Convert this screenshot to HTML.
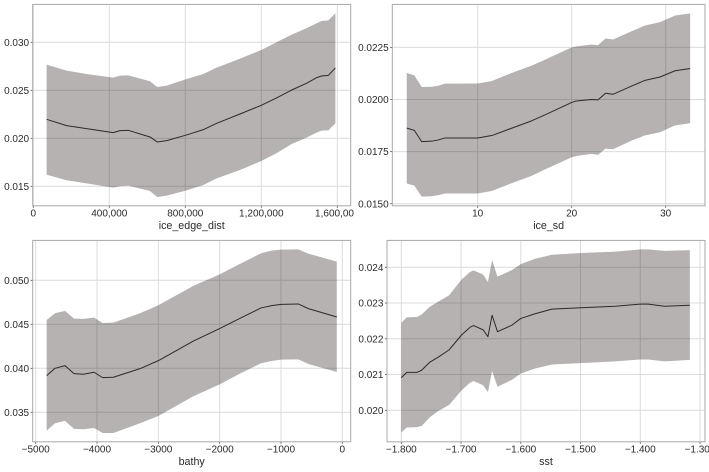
<!DOCTYPE html>
<html lang="en">
<head>
<meta charset="utf-8">
<title>Partial dependence panels</title>
<style>
html,body{margin:0;padding:0;background:#fff;width:709px;height:472px;overflow:hidden}
svg{display:block;filter:blur(.25px)}
text{font-family:"Liberation Sans",Arial,sans-serif;fill:#2b2b2b}
</style>
</head>
<body>
<svg id="chart" xmlns="http://www.w3.org/2000/svg" width="709" height="472" viewBox="0 0 709 472">
<defs><clipPath id="left-column-clip"><rect x="0" y="0" width="354" height="472"></rect></clipPath></defs>
</svg>
<script>
const iceEdgeX = [70000,175000,280000,420000,456000,500000,614000,652000,702000,807000,895000,965000,1088000,1200000,1280000,1360000,1438000,1491000,1517000,1553000,1590000];
const iceEdgeMean = [.02198,.02132,.02101,.02059,.0208,.02083,.02014,.01962,.01976,.02035,.0209,.02156,.02253,.02344,.0242,.02503,.02573,.02632,.02649,.02656,.02733];
const iceEdgeLow = [.01622,.01563,.01531,.01486,.0150,.01507,.01451,.01389,.01403,.01458,.01514,.01583,.0167,.01764,.01844,.01941,.02007,.02059,.0208,.02083,.02156];
const iceEdgeHigh = [.02767,.02705,.0267,.02632,.02653,.02656,.02594,.02535,.02549,.02618,.0267,.02736,.0283,.0292,.030,.0308,.03146,.03198,.03222,.03229,.03302];
const iceEdgeXTicks = [0,400000,800000,1200000,1600000];
const iceEdgeXLabels = ["0","400,000","800,000","1,200,000","1,600,000"];
const iceEdgeYTicks = [.015,.020,.025,.030];
const iceEdgeYLabels = ["0.015","0.020","0.025","0.030"];

const iceSdX = [2.45,3.26,4.04,5.1,5.8,6.5,10,11.5,13.6,15.7,17.2,20,20.5,22.1,22.8,23.6,24.4,26.4,27.8,29.4,31,32.6];
const iceSdMean = [.01863,.01852,.01798,.0180,.01806,.01815,.01815,.01827,.01862,.01897,.01927,.01986,.01993,.0200,.01998,.0203,.02025,.02065,.02092,.02108,.02138,.02149];
const iceSdLow = [.01597,.01587,.01534,.01536,.01541,.01549,.01549,.01561,.01598,.01633,.01665,.01723,.01729,.01739,.01734,.01764,.01761,.01803,.01828,.01843,.01876,.01886];
const iceSdHigh = [.02127,.02116,.0206,.02061,.02066,.02076,.02077,.02089,.02127,.02162,.02192,.0225,.02255,.02264,.02261,.02293,.02288,.02328,.02355,.02371,.02403,.02413];
const iceSdXTicks = [10,20,30];
const iceSdXLabels = ["10","20","30"];
const iceSdYTicks = [.015,.0175,.020,.0225];
const iceSdYLabels = ["0.0150","0.0175","0.0200","0.0225"];

const bathyX = [-4821,-4685,-4522,-4375,-4223,-4049,-3908,-3734,-3299,-3000,-2429,-2000,-1668,-1326,-1152,-1000,-717,-554,-90];
const bathyMean = [.03917,.0400,.0403,.03939,.03932,.03955,.03894,.03898,.03996,.04087,.0431,.04451,.04568,.04686,.04712,.04727,.04731,.04678,.04583];
const bathyLow = [.03292,.03375,.03402,.03311,.03307,.03322,.03265,.03265,.03375,.03458,.03682,.03818,.03939,.04057,.04083,.04098,.04102,.04049,.03958];
const bathyHigh = [.04549,.04625,.04652,.04564,.04561,.04576,.04515,.04519,.04625,.04716,.04936,.05068,.05186,.05307,.05337,.05348,.05352,.05303,.05212];
const bathyXTicks = [-5000,-4000,-3000,-2000,-1000,0];
const bathyXLabels = ["\u22125000","\u22124000","\u22123000","\u22122000","\u22121000","0"];
const bathyYTicks = [.035,.040,.045,.050];
const bathyYLabels = ["0.035","0.040","0.045","0.050"];

const sstX = [-1.8,-1.791,-1.774,-1.766,-1.752,-1.738,-1.72,-1.699,-1.685,-1.679,-1.663,-1.655,-1.648,-1.639,-1.615,-1.6,-1.576,-1.548,-1.5,-1.442,-1.4,-1.387,-1.359,-1.317];
const sstMean = [.02091,.02106,.02106,.02112,.02135,.02149,.02169,.02211,.02232,.02237,.02225,.02206,.02266,.0222,.02238,.02257,.0227,.02283,.02287,.02291,.02297,.02297,.02291,.02294];
const sstLow = [.01938,.01952,.01953,.01956,.01981,.01998,.02015,.02056,.02077,.02082,.0207,.02051,.0211,.02066,.02085,.02103,.02117,.02128,.02132,.02137,.02142,.02142,.02137,.02141];
const sstHigh = [.02245,.0226,.02261,.02268,.0229,.02304,.02322,.02366,.02387,.02391,.0238,.02359,.0242,.02374,.02392,.02409,.02424,.02435,.0244,.02444,.0245,.0245,.02446,.02448];
const sstXTicks = [-1.8,-1.7,-1.6,-1.5,-1.4,-1.3];
const sstXLabels = ["\u22121.800","\u22121.700","\u22121.600","\u22121.500","\u22121.400","\u22121.300"];
const sstYTicks = [.020,.021,.022,.023,.024];
const sstYLabels = ["0.020","0.021","0.022","0.023","0.024"];

const NS = "http://www.w3.org/2000/svg";
const root = document.getElementById("chart");

function make(parent, tag, attrs, text) {
  const el = document.createElementNS(NS, tag);
  for (const k in attrs) el.setAttribute(k, attrs[k]);
  if (text !== undefined) el.textContent = text;
  parent.appendChild(el);
  return el;
}

function linear(d0, d1, r0, r1) {
  return v => r0 + (v - d0) / (d1 - d0) * (r1 - r0);
}

function drawPanel(p) {
  const g = make(root, "g", p.clip ? {"clip-path":"url(#" + p.clip + ")"} : {});
  
  
  const sx = linear(p.xDomain[0], p.xDomain[1], p.xRange[0], p.xRange[1]);
  const sy = linear(p.yDomain[0], p.yDomain[1], p.yRange[0], p.yRange[1]);

  p.xTicks.forEach((t, i) => {
    const x = sx(t);
    const line = make(g, "line", {x1:x, x2:x, y1:p.top, y2:p.bottom, stroke:"#dcdcdc", "stroke-width":1});
    
    
    const tick = make(g, "line", {x1:x, x2:x, y1:p.bottom, y2:p.bottom + 2, stroke:"#444", "stroke-width":.8});
    
    
    const label = make(g, "text", {x:x, y:p.bottom + 10.8, "font-size":10, "text-anchor":"middle"}, p.xLabels[i]);
    
    
  });

  p.yTicks.forEach((t, i) => {
    const y = sy(t);
    const line = make(g, "line", {x1:p.left, x2:p.right, y1:y, y2:y, stroke:"#dcdcdc", "stroke-width":1});
    
    
    const tick = make(g, "line", {x1:p.left - 2, x2:p.left, y1:y, y2:y, stroke:"#444", "stroke-width":.8});
    
    
    const label = make(g, "text", {x:p.left - 3.6, y:y + 3.6, "font-size":10, "text-anchor":"end"}, p.yLabels[i]);
    
    
  });

  const upper = p.xs.map((x, i) => sx(x).toFixed(2) + "," + sy(p.high[i]).toFixed(2));
  const lower = p.xs.map((x, i) => sx(x).toFixed(2) + "," + sy(p.low[i]).toFixed(2)).reverse();
  const band = make(g, "polygon", {points:upper.concat(lower).join(" "), fill:"#b6b2b1", style:"mix-blend-mode:multiply"});
  
  

  const meanPts = p.xs.map((x, i) => sx(x).toFixed(2) + "," + sy(p.mean[i]).toFixed(2)).join(" ");
  const line = make(g, "polyline", {points:meanPts, fill:"none", stroke:"#2a2a2a", "stroke-width":1, "stroke-linejoin":"round"});
  
  

  const frame = make(g, "rect", {x:p.left, y:p.top, width:p.right - p.left, height:p.bottom - p.top, fill:"none", stroke:"#a8a8a8", "stroke-width":1});
  
  

  const title = make(g, "text", {x:(p.left + p.right) / 2, y:p.bottom + 23.2, "font-size":10.7, "text-anchor":"middle"}, p.name);
  
  
}

drawPanel({name:"ice_edge_dist", left:32.7, right:350.7, top:4.4, bottom:205.8, clip:"left-column-clip",
  xDomain:[0,1600000], xRange:[33.3,337.3], yDomain:[.015,.030], yRange:[186.3,42.3],
  xs:iceEdgeX, mean:iceEdgeMean, low:iceEdgeLow, high:iceEdgeHigh,
  xTicks:iceEdgeXTicks, xLabels:iceEdgeXLabels, yTicks:iceEdgeYTicks, yLabels:iceEdgeYLabels});

drawPanel({name:"ice_sd", left:392.3, right:705, top:4.4, bottom:205.8,
  xDomain:[10,30], xRange:[477.7,665.7], yDomain:[.015,.0225], yRange:[203.7,47.4],
  xs:iceSdX, mean:iceSdMean, low:iceSdLow, high:iceSdHigh,
  xTicks:iceSdXTicks, xLabels:iceSdXLabels, yTicks:iceSdYTicks, yLabels:iceSdYLabels});

drawPanel({name:"bathy", left:32.7, right:350.7, top:240.4, bottom:441.8,
  xDomain:[-5000,0], xRange:[35.7,342.3], yDomain:[.035,.050], yRange:[412.3,280.3],
  xs:bathyX, mean:bathyMean, low:bathyLow, high:bathyHigh,
  xTicks:bathyXTicks, xLabels:bathyXLabels, yTicks:bathyYTicks, yLabels:bathyYLabels});

drawPanel({name:"sst", left:387, right:705, top:240.4, bottom:441.8,
  xDomain:[-1.8,-1.3], xRange:[401.3,700], yDomain:[.020,.024], yRange:[410.3,267.3],
  xs:sstX, mean:sstMean, low:sstLow, high:sstHigh,
  xTicks:sstXTicks, xLabels:sstXLabels, yTicks:sstYTicks, yLabels:sstYLabels});
</script>
</body>
</html>
